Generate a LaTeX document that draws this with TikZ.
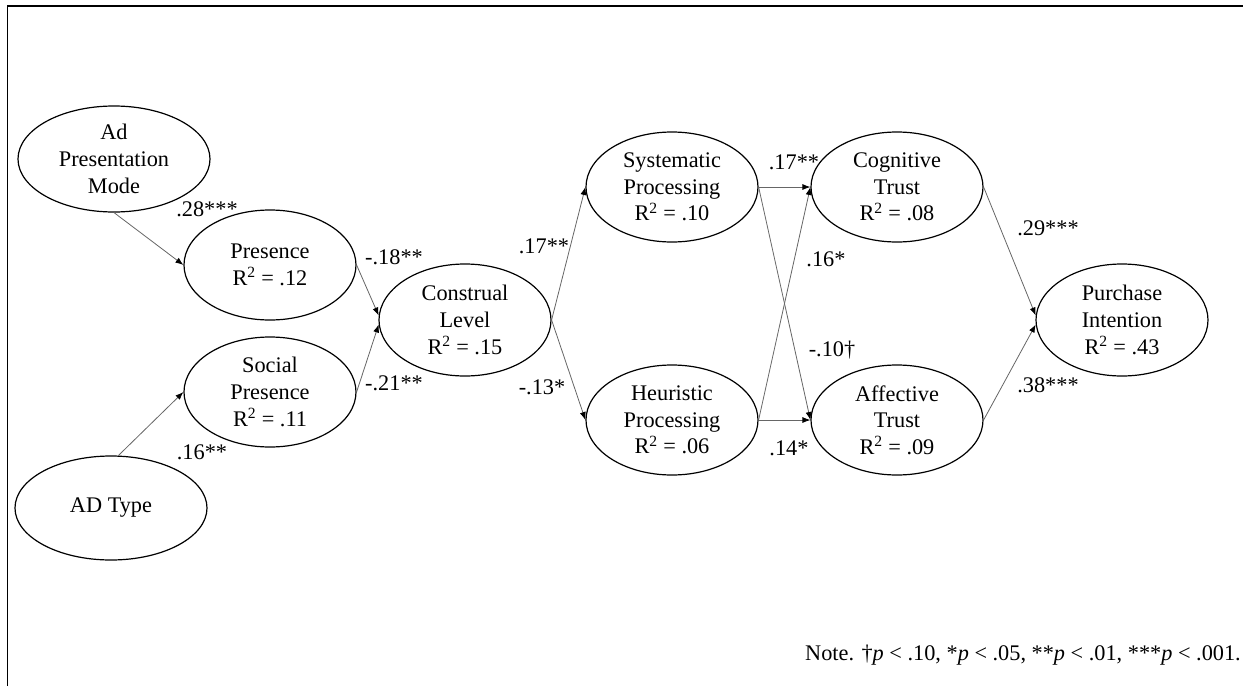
\documentclass[tikz,border=0pt]{standalone}
\usepackage{fontspec}
\setmainfont{Liberation Serif}
\usetikzlibrary{shapes.geometric,arrows.meta}
\tikzset{
  lat/.style={ellipse,draw=black,line width=1.2pt,inner sep=0pt,align=center,
    minimum width=172pt,minimum height=110pt},
  path/.style={draw=black!60,line width=0.8pt,-{Latex[length=8pt,width=6pt,color=black]}},
  coef/.style={inner sep=0pt},
}
\begin{document}
\begin{tikzpicture}[x=1pt,y=-1pt,font=\fontsize{22.3}{26.7}\selectfont]
\useasboundingbox (0,0) rectangle (1243,686);
\draw[line width=1.6pt] (7.5,686) -- (7.5,6) -- (1243,6);

\node[lat,minimum width=192pt,minimum height=106pt] (apm) at (114,159) {Ad\\Presentation\\Mode};
\node[lat] (pres) at (270,265) {Presence\\R\textsuperscript{2} = .12};
\node[lat] (soc) at (270,392) {Social\\Presence\\R\textsuperscript{2} = .11};
\node[lat,minimum width=192pt,minimum height=104pt] (adt) at (111,508) {AD Type};
\node[lat,minimum height=112pt] (cl) at (465,320) {Construal\\Level\\R\textsuperscript{2} = .15};
\node[lat] (sys) at (672,187) {Systematic\\Processing\\R\textsuperscript{2} = .10};
\node[lat] (heu) at (672,420) {Heuristic\\Processing\\R\textsuperscript{2} = .06};
\node[lat] (cog) at (897,187) {Cognitive\\Trust\\R\textsuperscript{2} = .08};
\node[lat] (aff) at (897,420) {Affective\\Trust\\R\textsuperscript{2} = .09};
\node[lat,minimum height=112pt] (pi) at (1122,320) {Purchase\\Intention\\R\textsuperscript{2} = .43};

\draw[path] (apm.south) -- (pres.west);
\draw[path] (adt.82) -- (soc.west);
\draw[path] (pres.east) -- (cl.177);
\draw[path] (soc.east) -- (cl.183);
\draw[path] (cl.east) -- (sys.west);
\draw[path] (cl.east) -- (heu.west);
\draw[path] (sys.east) -- (cog.west);
\draw[path] (sys.east) -- (aff.west);
\draw[path] (heu.east) -- (cog.west);
\draw[path] (heu.east) -- (aff.west);
\draw[path] (cog.east) -- (pi.177);
\draw[path] (aff.east) -- (pi.183);

\node[coef] (l1) at (207,209) {.28***};
\node[coef] (l2) at (202,452) {.16**};
\node[coef] (l3) at (394,257) {-.18**};
\node[coef] (l4) at (394,383) {-.21**};
\node[coef] (l5) at (544,246) {.17**};
\node[coef] (l6) at (542,387) {-.13*};
\node[coef] (l7) at (794,162) {.17**};
\node[coef] (l8) at (789,448) {.14*};
\node[coef] (l9) at (826,259) {.16*};
\node[coef] (l10) at (832,350) {-.10†};
\node[coef] (l11) at (1048,228) {.29***};
\node[coef] (l12) at (1048,385) {.38***};
\node[coef,anchor=east] (note) at (1241,655) {Note. †\textit{p} < .10, *\textit{p} < .05, **\textit{p} < .01, ***\textit{p} < .001.};
\end{tikzpicture}
\end{document}
